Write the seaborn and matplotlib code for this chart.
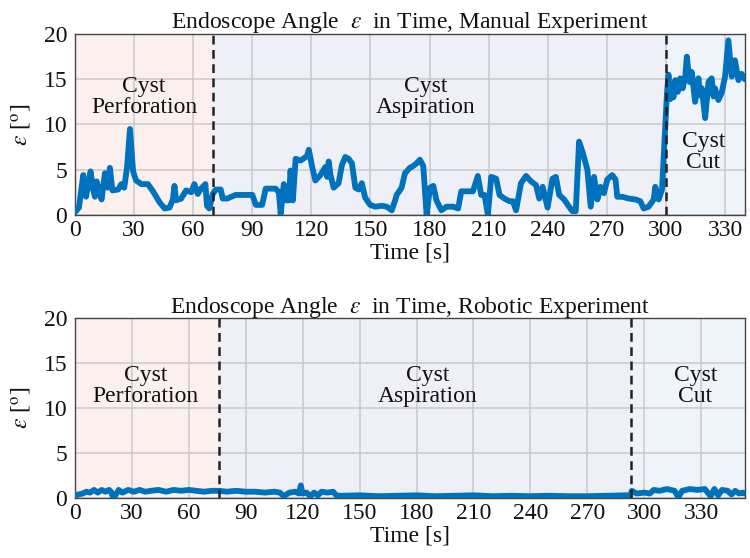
import numpy as np
import pandas as pd
import matplotlib
matplotlib.use("Agg")
import matplotlib.pyplot as plt
import seaborn as sns

# --- manual experiment (time [s], angle [deg]) ---
manual_t = [0, 2, 4.2, 5.6, 7.9, 9, 10.1, 11, 12.3, 13.5, 15.2, 16.5, 17.7, 19, 21.9, 23.5,
            25, 26.4, 27.9, 29.5, 31, 33.7, 37, 39.6, 42.9, 45.5, 48, 49.7, 50.5, 51.3,
            53.9, 56.4, 59, 60.6, 62.3, 64, 66.2, 67, 68.2, 69.9, 71.5, 74, 75, 77.3, 81.5,
            86, 90, 91.8, 95, 96.8, 101.8, 103.5, 104.4, 106, 107.2, 108.6, 109.4, 110.6,
            112, 114.5, 117.8, 118.7, 120.4, 122, 124.6, 127.1, 128, 128.8, 129.7, 131.3,
            133.8, 135.5, 137.2, 138.9, 140.6, 142.3, 144, 145.6, 147.3, 149.8, 152.4,
            155.7, 158.2, 160.8, 162.5, 163.3, 165.8, 167.5, 170, 171.7, 173.4, 175.1,
            176.8, 178.5, 180.2, 181.9, 183.5, 186, 188.6, 192, 194.5, 196.1, 199.5, 202,
            204.5, 206.2, 207.9, 209.6, 211.3, 213.8, 215.5, 218, 220.6, 222.3, 223.9,
            226.4, 229, 231.5, 234, 235.7, 237.4, 239.9, 242.4, 244.1, 245.8, 248.3, 250.5,
            252.5, 254.2, 255.9, 257.6, 260.1, 261.8, 263.5, 265.2, 266.8, 268.5, 270.2,
            272.7, 274.4, 275.3, 277.8, 281.1, 284.5, 287, 288.7, 291.2, 293.8, 294.6,
            296.3, 298, 299.2, 300.5, 301.3, 302.2, 303, 303.8, 304.7, 306, 307.2, 308.5,
            309.8, 310.6, 312, 313.1, 314.8, 316.5, 317.3, 318.2, 319.9, 321.6, 323.2,
            324.1, 324.9, 326.6, 328.3, 330, 331.7, 333.4, 335, 336.8, 338.4, 340]
manual_v = [0.3, 0.8, 4.4, 2.0, 4.8, 3.0, 2.0, 3.7, 2.6, 1.7, 4.6, 3.0, 5.2, 2.7, 2.8, 3.4,
            3.0, 5.2, 9.5, 4.8, 3.8, 3.4, 3.4, 2.6, 1.4, 0.7, 0.8, 1.7, 3.2, 1.6,
            1.8, 2.7, 2.5, 3.4, 2.3, 2.9, 3.4, 1.0, 0.7, 2.3, 2.8, 2.8, 1.8, 1.8, 2.2,
            2.2, 2.2, 1.1, 1.1, 2.9, 2.9, 2.5, 0.1, 3.4, 1.6, 1.6, 4.9, 1.6,
            6.2, 6.0, 6.5, 7.2, 5.3, 3.8, 4.4, 5.3, 4.2, 5.9, 4.4, 3.0,
            3.5, 5.5, 6.4, 6.2, 5.7, 3.0, 2.8, 3.5, 1.9, 1.1, 0.9,
            1.0, 0.9, 0.5, 1.6, 2.2, 3.0, 4.6, 5.2, 5.4, 5.7, 6.1,
            5.4, 0.0, 3.0, 3.2, 1.6, 0.5, 0.9, 0.9, 0.7, 2.6, 2.6, 2.6,
            4.3, 2.2, 2.2, 0.0, 4.2, 4.0, 2.2, 1.8, 1.5, 1.5, 0.5,
            3.5, 4.3, 3.7, 3.3, 1.8, 3.1, 0.8, 4.0, 4.2, 2.2, 1.7, 1.0,
            0.4, 0.4, 8.1, 7.0, 5.0, 0.9, 4.2, 1.7, 3.1, 2.4, 3.9,
            4.4, 3.9, 2.0, 2.0, 1.8, 1.7, 1.5, 0.7, 0.9, 1.7, 3.1,
            1.7, 2.8, 7.9, 13.4, 15.5, 12.8, 14.2, 13.0, 14.9, 13.6, 15.1, 14.0,
            15.3, 17.5, 14.7, 15.8, 12.5, 15.1, 13.2, 14.0, 10.7, 14.7, 15.1,
            13.1, 14.0, 12.7, 13.5, 15.3, 19.3, 15.3, 17.1, 14.9, 15.6, 15.0]

# --- robotic experiment ---
robot_t = [0, 2, 4, 6, 8, 10, 12, 14, 16, 18, 19, 20, 21, 23, 25, 28, 31, 34, 37, 40, 44,
           48, 52, 56, 60, 64, 68, 72, 76, 80, 85, 90, 95, 100, 105, 108, 110, 113, 116,
           118, 119, 120, 122, 124, 126, 128, 130, 133, 136, 137.7, 140, 150, 160, 170,
           180, 190, 200, 210, 220, 230, 240, 250, 260, 270, 280, 290, 292.6, 293.5, 296,
           300, 303, 305, 308, 312, 316, 318, 320, 324, 328, 332, 335, 337, 339, 341, 344,
           346, 348, 350, 352, 353]
robot_v = [0.3, 0.4, 0.5, 0.7, 0.6, 0.9, 0.6, 0.9, 0.7, 0.9, 0.7, 0.1, 0.2, 0.9, 0.6,
           0.9, 0.7, 0.9, 0.7, 0.8, 0.9, 0.7, 0.9, 0.8, 0.9, 0.8, 0.7, 0.8, 0.8, 0.7,
           0.8, 0.7, 0.7, 0.6, 0.7, 0.6, 0.2, 0.6, 0.7, 0.5, 1.4, 0.5, 0.6, 0.2, 0.6,
           0.3, 0.7, 0.6, 0.7, 0.3, 0.25, 0.3, 0.2, 0.25, 0.3, 0.2, 0.25, 0.3, 0.2,
           0.25, 0.2, 0.25, 0.2, 0.2, 0.25, 0.3, 0.3, 0.8, 0.5, 0.6, 0.5, 0.9, 0.8,
           1.0, 0.8, 0.1, 0.8, 1.0, 0.9, 1.0, 0.2, 1.0, 0.3, 0.9, 0.8, 0.4, 0.8, 0.5,
           0.6, 0.5]

phase_labels = ["Cyst\nPerforation", "Cyst\nAspiration", "Cyst\nCut"]
manual_bounds = [0, 70, 300, 340]
robot_bounds = [0, 76, 293, 353]
manual_label_pos = [(35, 13.0), (178, 13.0), (319, 7.0)]
robot_label_pos = [(37, 12.4), (186, 12.4), (327, 12.4)]
phase_colors = ["#fbf0ee", "#eff0f7", "#eff4fb"]

sns.set_theme(style="whitegrid")
plt.rcParams["font.family"] = ["Liberation Serif", "DejaVu Serif"]
plt.rcParams["mathtext.fontset"] = "stix"
plt.rcParams["text.color"] = "#111111"
plt.rcParams["axes.labelcolor"] = "#111111"
plt.rcParams["xtick.color"] = "#111111"
plt.rcParams["ytick.color"] = "#111111"

FS = 17

fig = plt.figure(figsize=(7.5, 5.58), dpi=100)
ax1 = fig.add_axes([0.1, 0.615, 0.893, 0.324])
ax2 = fig.add_axes([0.1, 0.1075, 0.893, 0.3225])


def draw_panel(ax, t, v, bounds, label_pos, title):
    for i in range(3):
        ax.axvspan(bounds[i], bounds[i + 1], color=phase_colors[i], zorder=0, lw=0)
    ax.set_axisbelow(True)
    ax.grid(True, color="#c9c9ce", linewidth=1.1)
    df = pd.DataFrame({"t": t, "v": v})
    sns.lineplot(data=df, x="t", y="v", ax=ax, color="#0072BD",
                 linewidth=4.2, estimator=None, sort=True, zorder=3)
    for b in bounds[1:3]:
        ax.axvline(b, color="#222222", linestyle=(0, (3.5, 2.2)), linewidth=1.8, zorder=4)
    for lbl, (x, y) in zip(phase_labels, label_pos):
        ax.text(x, y, lbl, ha="center", va="center", fontsize=FS,
                linespacing=1.0, zorder=5)
    ax.set_xlim(bounds[0], bounds[-1])
    ax.set_ylim(0, 20)
    ax.set_xticks(np.arange(0, 331, 30))
    ax.set_yticks([0, 5, 10, 15, 20])
    ax.tick_params(labelsize=FS, length=0)
    ax.tick_params(axis="x", pad=3.5)
    ax.tick_params(axis="y", pad=5.5)
    ax.set_xlabel("Time [s]", fontsize=FS, labelpad=1)
    ax.set_ylabel(r"$\varepsilon$ [$^{\rm o}$]", fontsize=FS, labelpad=7)
    ax.set_title(title, fontsize=FS, pad=4)
    for s in ax.spines.values():
        s.set_color("#444444")
        s.set_linewidth(1.0)


draw_panel(ax1, manual_t, manual_v, manual_bounds, manual_label_pos,
           r"Endoscope Angle  $\varepsilon$  in Time, Manual Experiment")
draw_panel(ax2, robot_t, robot_v, robot_bounds, robot_label_pos,
           r"Endoscope Angle  $\varepsilon$  in Time, Robotic Experiment")

fig.savefig("out.png", dpi=100)
